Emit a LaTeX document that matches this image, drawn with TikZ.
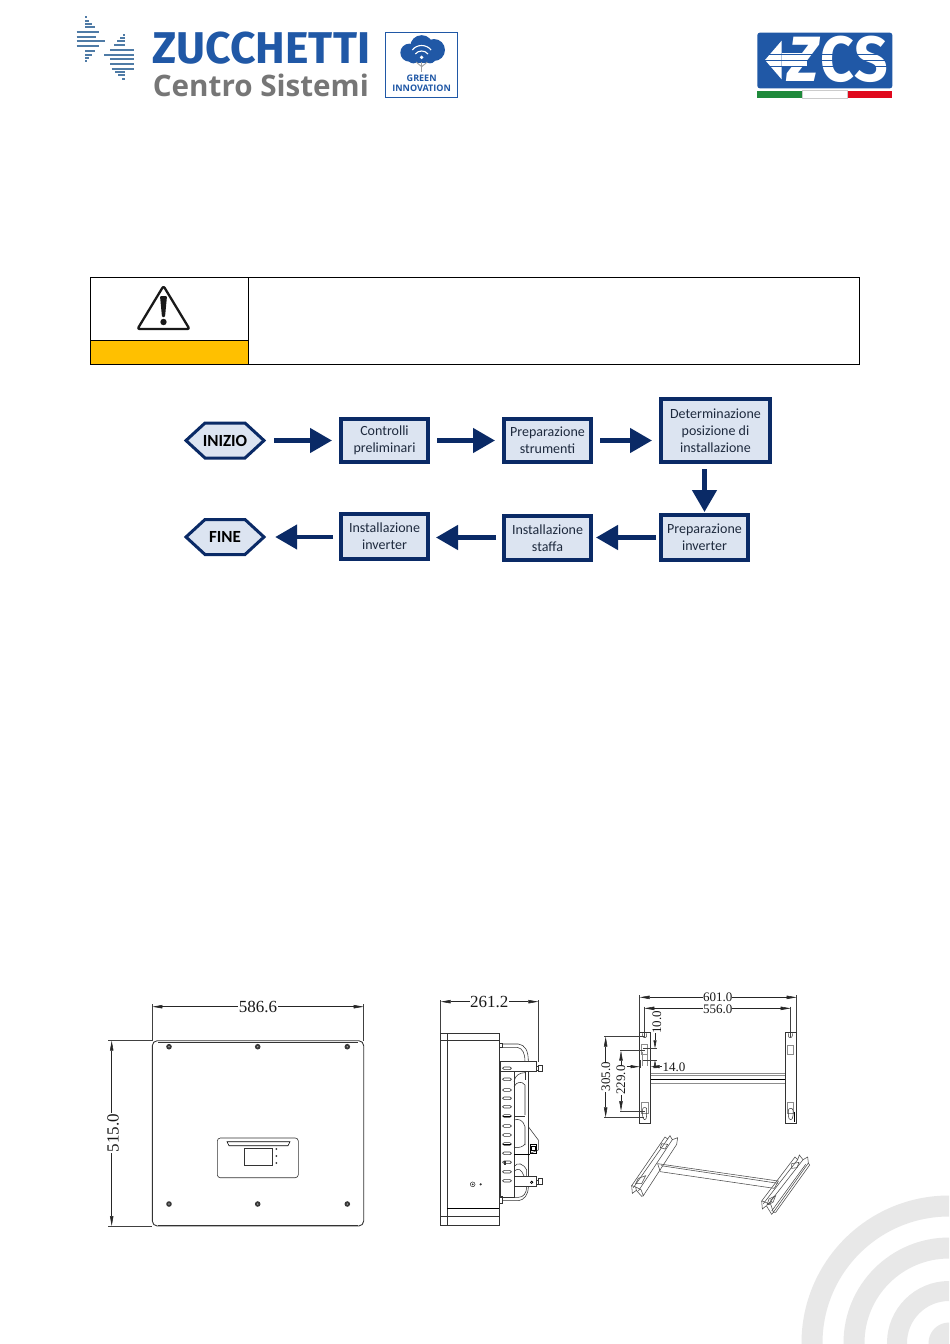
\documentclass[tikz,border=0pt]{standalone}
\usepackage{fontspec}
\setmainfont{Carlito}
\newfontfamily\dimfont{Liberation Serif}
\newfontfamily\logofont{Fira Sans}
\newfontfamily\logosfont{Open Sans}
\usetikzlibrary{arrows.meta,calc}
\definecolor{navy}{HTML}{0A2A66}
\definecolor{pale}{HTML}{DCE4F1}
\definecolor{inktext}{HTML}{1E2A3E}
\definecolor{zblue}{HTML}{2058A6}
\definecolor{zgrey}{HTML}{767676}
\definecolor{stripe}{HTML}{4F7BA6}
\definecolor{ring}{HTML}{E8E8E8}
\definecolor{amber}{HTML}{FFC000}
\definecolor{flaggreen}{HTML}{1F8A3B}
\definecolor{flagred}{HTML}{E0081C}
\tikzset{
  flowbox/.style={draw=navy,line width=4.4pt,fill=pale,inner sep=0pt,text=inktext,align=center,font=\fontsize{14}{17}\selectfont},
  hexlabel/.style={inner sep=0pt,minimum width=84pt,minimum height=38pt,text=black,font=\fontsize{17}{18}\selectfont\bfseries},
  hexline/.style={draw=navy,line width=3pt,fill=pale,miter limit=10},
  flowarrow/.style={draw=navy,line width=4.6pt,-{Triangle[length=22pt,width=24pt]},shorten <=7pt,shorten >=7pt},
  thin line/.style={line width=0.55pt,draw=black!80},
  dimension/.style={line width=0.55pt,draw=black!85,{Triangle[length=10pt,width=3.4pt]}-{Triangle[length=10pt,width=3.4pt]}},
  extline/.style={line width=0.5pt,draw=black!75},
  dimtext/.style={font=\dimfont\fontsize{17}{17}\selectfont,fill=white,inner sep=0.5pt,text=black!90},
  dimtextsmall/.style={font=\dimfont\fontsize{13}{13}\selectfont,fill=white,inner sep=0.2pt,text=black!90},
  greybar/.style={line width=0.9pt,draw=black!45},
  stripeline/.style={line width=1.7pt,draw=stripe},
}
\newcommand{\hexshape}[3]{% name, centre, label
  \draw[hexline] ($(#2)+(-39,0)$) -- ($(#2)+(-20,-17.5)$) -- ($(#2)+(20,-17.5)$) -- ($(#2)+(39,0)$) -- ($(#2)+(20,17.5)$) -- ($(#2)+(-20,17.5)$) -- cycle;
  \node[hexlabel] (#1) at (#2) {#3};}
\begin{document}
\begin{tikzpicture}[x=1pt,y=-1pt]
\useasboundingbox (0,0) rectangle (950,1344);
\fill[white] (0,0) rectangle (950,1344);

% ---- background rings
\begin{scope}
\clip (790,1190) rectangle (949,1343);
\draw[ring,line width=21pt] (949,1343) circle[radius=137pt];
\draw[ring,line width=21pt] (949,1343) circle[radius=95pt];
\draw[ring,line width=20pt] (949,1343) circle[radius=52pt];
\fill[ring] (949,1343) circle[radius=20.5pt];
\end{scope}

% ---- Zucchetti mark (zoom coordinates)
\begin{scope}[shift={(60,0)},x=0.33333pt,y=-0.33333pt]
\foreach \ya/\xa/\xb in {52/75/80,62/75/88,72/75/96,82/75/106,97/50/118,110/50/108,124/50/134,138/50/118,152/75/104,164/75/96,174/75/88,184/75/80}
  \draw[stripeline] (\xa,\ya) -- (\xb,\ya);
\foreach \ya/\xa/\xb in {104/190/195,114/180/195,124/172/195,134/162/195,150/150/222,164/133/222,178/150/222,192/150/222,206/155/222,216/165/195,226/175/195,238/186/195}
  \draw[stripeline] (\xa,\ya) -- (\xb,\ya);
\node[anchor=base west,inner sep=0pt,text=zblue,font=\logofont\bfseries\fontsize{44.5}{44}\selectfont] (zname) at (278,190) {ZUCCHETTI};
\node[anchor=base west,inner sep=0pt,text=zgrey,font=\logosfont\bfseries\fontsize{29.6}{30}\selectfont] (cname) at (278,288) {Centro Sistemi};
% green innovation badge
\draw[zblue,line width=1.6pt] (977,98) rectangle (1193,293);
\fill[zblue] (1048,158) circle[radius=9pt];
\fill[zblue] (1122,150) circle[radius=11pt];
\fill[zblue] (1085,140) circle[radius=11.5pt];
\fill[zblue] (1060,172) circle[radius=6pt];
\fill[zblue] (1110,172) circle[radius=6pt];
\fill[zblue] (1060,150) rectangle (1110,188);
\draw[white,line width=1.1pt] (1057,150) .. controls (1070,132) and (1100,132) .. (1113,150);
\draw[white,line width=1.1pt] (1066,162) .. controls (1075,150) and (1095,150) .. (1104,162);
\fill[white] (1085,172) circle[radius=1.9pt];
\draw[zgrey!70,line width=1.4pt] (1085,186) -- (1085,216);
\draw[zgrey!70,line width=0.9pt] (1085,200) -- (1068,186) (1085,200) -- (1102,186);
\node[inner sep=0pt,text=zblue,font=\logosfont\bfseries\fontsize{9}{9}\selectfont] (gr) at (1085,235) {GREEN};
\node[inner sep=0pt,text=zblue,font=\logosfont\bfseries\fontsize{9}{9}\selectfont] (inn) at (1085,266) {INNOVATION};
\end{scope}

% ---- ZCS logo
\begin{scope}[shift={(740,20)},x=0.33333pt,y=-0.33333pt]
\fill[zblue,rounded corners=2.5pt] (52,38) rectangle (457,205);
\fill[white] (75,120) -- (125,62) -- (125,178) -- cycle;
\fill[white] (125,100) rectangle (200,140);
\node[anchor=base west,inner sep=0pt,text=white,font=\logofont\bfseries\fontsize{64}{64}\selectfont,xscale=0.92] (zcs) at (142,184) {\textit{Z}CS};
\draw[zblue,line width=1.3pt] (60,104) -- (440,104);
\draw[zblue,line width=1.3pt] (60,122) -- (440,122);
\draw[zblue,line width=1.3pt] (60,140) -- (440,140);
\fill[flaggreen] (52,212) rectangle (187,235);
\fill[flagred] (323,212) rectangle (457,235);
\draw[black!20,line width=0.4pt] (187,212) rectangle (323,235);
\end{scope}

% ---- warning table
\fill[amber] (90,340) rectangle (248.5,364.5);
\draw[black,line width=1pt] (90.5,277.5) rectangle (859.5,364.5);
\draw[black,line width=1pt] (248.5,277.5) -- (248.5,364.5);
\draw[black,line width=0.8pt] (90.5,340) -- (248.5,340);
\draw[black!90,line width=2.3pt,line join=round,rounded corners=2pt] (163.5,286) -- (189.5,329) -- (137.5,329) -- cycle;
\fill[black!90,rounded corners=1pt] (160,296) -- (167,296) -- (165,317) -- (162,317) -- cycle;
\fill[black!90] (163.5,322) circle[radius=3.2pt];

% ---- flow chart
\hexshape{start}{225,440.5}{INIZIO}
\hexshape{finish}{225,537}{FINE}
\node[flowbox,minimum width=86.6pt,minimum height=42.6pt] (check) at (384.5,440.5) {Controlli\\preliminari};
\node[flowbox,minimum width=86.6pt,minimum height=42.6pt] (tools) at (547.5,440.5) {Preparazione\\strumenti};
\node[flowbox,minimum width=108.6pt,minimum height=62.6pt] (place) at (715.5,430.5) {Determinazione\\posizione di\\installazione};
\node[flowbox,minimum width=86.6pt,minimum height=44.6pt] (prep) at (704.5,537.5) {Preparazione\\inverter};
\node[flowbox,minimum width=86.6pt,minimum height=43.6pt] (bracket) at (547.5,538) {Installazione\\staffa};
\node[flowbox,minimum width=86.6pt,minimum height=44.6pt] (inst) at (384.5,536.5) {Installazione\\inverter};
\draw[flowarrow] (start.east) -- (check.west);
\draw[flowarrow] (check.east) -- (tools.west);
\draw[flowarrow] (tools.east) -- (place.west |- tools.east);
\draw[flowarrow,shorten <=5pt,shorten >=1pt] (place.south -| prep.north) -- (prep.north);
\draw[flowarrow,shorten <=3pt,shorten >=3pt] (prep.west) -- (bracket.east |- prep.west);
\draw[flowarrow,shorten <=6pt,shorten >=6pt] (bracket.west |- prep.west) -- (inst.east |- prep.west);
\draw[flowarrow,shorten <=6pt,shorten >=8pt] (inst.west |- finish.east) -- (finish.east);

% ---- front view
\draw[thin line,line width=0.9pt,rounded corners=5pt] (152.3,1040.7) rectangle (363.7,1226);
\draw[thin line,line width=0.5pt] (158,1042.3) -- (358,1042.3);
\draw[thin line,line width=0.5pt] (158,1224.8) -- (358,1224.8);
\foreach \sx in {169,257.7,347.3} \foreach \sy in {1046.7,1204} {
  \fill[black!78] (\sx,\sy) circle[radius=2.8pt];
  \fill[black!35] (\sx,\sy) circle[radius=0.8pt];
}
\draw[thin line,line width=0.6pt,rounded corners=3pt] (217.3,1138) rectangle (298.3,1177.7);
\draw[black,line width=0.6pt,fill=white] (227,1141.7) -- (290,1141.7) -- (288,1145.7) -- (229,1145.7) -- cycle;
\draw[thin line,line width=0.6pt] (244.3,1148.3) rectangle (272.3,1165);
\foreach \sy in {1149,1156,1163} \fill[black!80] (276.3,\sy) circle[radius=1pt];
\draw[extline] (152.3,1004) -- (152.3,1040.7);
\draw[extline] (363.7,1004) -- (363.7,1040.7);
\draw[dimension] (152.3,1006.7) -- (363.7,1006.7);
\node[dimtext] (w1) at (258,1007) {586.6};
\draw[extline] (108,1040.7) -- (152.3,1040.7);
\draw[extline] (108,1226) -- (152.3,1226);
\draw[dimension] (111.7,1040.7) -- (111.7,1226);
\node[dimtext,rotate=90] (h1) at (113,1133) {515.0};

% ---- side view (zoom coordinates)
\begin{scope}[shift={(430,990)},x=0.33333pt,y=-0.33333pt]
\draw[extline] (32,30) -- (32,130);
\draw[extline] (325,30) -- (325,215);
\draw[dimension] (32,35) -- (325,35);
\node[dimtext] (w2) at (178,37) {261.2};
\draw[thin line,line width=0.7pt] (32,130) rectangle (52,707);
\draw[thin line,line width=0.7pt] (52,130) rectangle (208,707);
\draw[thin line,line width=0.7pt] (32,152) -- (208,152);
\draw[black,line width=1pt] (52,655) -- (208,655);
\draw[thin line,line width=0.6pt] (32,678) -- (208,678);
% rear plate and brackets
\draw[thin line,line width=0.7pt] (210,215) -- (252,215) -- (252,622) -- (210,622) -- cycle;
\draw[thin line,line width=0.7pt,fill=white] (210,215) rectangle (318,243);
\draw[thin line,line width=0.7pt,fill=white] (325,225) rectangle (338,243);
\draw[thin line,line width=0.7pt] (318,228) -- (325,228) -- (325,240) -- (318,240);
\draw[thin line,line width=0.7pt,fill=white] (252,558) -- (318,558) -- (318,590) -- (252,590) -- cycle;
\draw[thin line,line width=0.7pt,fill=white] (325,566) rectangle (338,584);
\draw[thin line,line width=0.7pt] (318,570) -- (325,570) -- (325,582) -- (318,582);
\draw[black,line width=0.7pt] (305,577) circle[radius=1.2pt];
% cable bumps
\draw[thin line] (208,160) -- (218,160) -- (218,172) -- (208,172);
\draw[thin line] (208,618) -- (218,618) -- (218,640) -- (208,640);
\draw[thin line] (218,162) -- (265,162) .. controls (285,165) and (295,180) .. (295,215);
\draw[thin line] (218,172) -- (262,172) .. controls (278,175) and (285,190) .. (285,215);
\draw[thin line] (295,243) -- (295,558);
\draw[thin line] (285,243) -- (285,270);
\draw[thin line] (252,275) .. controls (255,255) and (270,248) .. (285,248);
\draw[thin line] (252,290) .. controls (260,275) and (275,272) .. (285,285) -- (285,375);
\draw[thin line] (252,378) -- (285,378);
\draw[thin line] (252,390) .. controls (265,385) and (280,390) .. (285,410) -- (285,465);
\draw[thin line] (252,472) .. controls (265,475) and (280,470) .. (285,462);
\draw[thin line] (295,410) -- (325,450) -- (325,480) -- (300,490);
\draw[black,line width=0.9pt] (300,462) rectangle (320,490);
\draw[black,line width=0.9pt] (305,468) rectangle (315,482);
\draw[black,line width=0.9pt] (252,492) -- (300,492);
\draw[thin line] (252,530) .. controls (262,515) and (280,520) .. (290,540) -- (290,558);
\draw[thin line] (252,545) .. controls (265,530) and (275,540) .. (282,558);
\draw[thin line] (218,622) -- (265,622) .. controls (280,622) and (290,610) .. (290,590);
\draw[thin line] (218,632) -- (265,632) .. controls (282,630) and (295,615) .. (295,590);
% vent slots
\foreach \sy in {235,268,300,325,350,378,408,435,462,490,517,545,572}
  \draw[thin line,line width=0.55pt,rounded corners=1.4pt] (218,\sy-4) rectangle (244,\sy+4);
\draw[black,line width=1pt] (218,378) -- (244,378);
\draw[black,line width=1pt] (218,462) -- (244,462);
\fill[black!80] (222,513) rectangle (228,525);
% connector on side
\draw[thin line,line width=0.5pt] (128,583) circle[radius=2.4pt];
\fill[black!80] (128,583) circle[radius=1pt];
\fill[black!80] (152,583) circle[radius=1.2pt];
\end{scope}

% ---- bracket drawing, plan view (zoom coordinates)
\begin{scope}[shift={(595,985)},x=0.33333pt,y=-0.33333pt]
\draw[extline] (134,30) -- (134,142);
\draw[extline] (605,30) -- (605,142);
\draw[extline] (148,65) -- (148,155);
\draw[extline] (587,65) -- (587,155);
\draw[dimension] (134,37) -- (605,37);
\draw[dimension] (148,70) -- (587,70);
\node[dimtextsmall] (w3) at (368,37) {601.0};
\node[dimtextsmall] (w4) at (368,72) {556.0};
\draw[thin line,line width=0.8pt] (134,142) rectangle (167,415);
\draw[thin line,line width=0.8pt] (570,142) rectangle (605,415);
\draw[greybar] (167,266) -- (570,266);
\draw[greybar] (167,271) -- (570,271);
\draw[black,line width=1pt] (167,283) -- (570,283);
\draw[greybar] (167,296) -- (570,296);
% left slots
\draw[thin line,line width=0.5pt] (143,145) -- (143,152) arc[start angle=180,end angle=360,radius=2pt] -- (155,145);
\draw[greybar,line width=0.6pt] (139,178) rectangle (157,208);
\draw[greybar,line width=0.6pt] (139,352) rectangle (159,385);
\draw[thin line,line width=0.5pt] (143,372) .. controls (143,366) and (155,366) .. (155,372) -- (155,392) .. controls (155,408) and (143,408) .. (143,392) -- cycle;
\draw[greybar,line width=0.6pt] (141,200) -- (141,243);
\draw[greybar,line width=0.6pt] (157,200) -- (157,243);
% right slots
\draw[thin line,line width=0.5pt] (580,145) -- (580,152) arc[start angle=180,end angle=360,radius=2pt] -- (592,145);
\draw[greybar,line width=0.6pt] (578,180) rectangle (596,208);
\draw[greybar,line width=0.6pt] (578,352) rectangle (596,385);
\draw[thin line,line width=0.5pt] (580,376) .. controls (580,368) and (594,368) .. (594,376) -- (594,392) .. controls (594,408) and (580,408) .. (580,392) -- cycle;
\draw[black,line width=1pt] (597,380) -- (597,412);
% dimensions
\draw[extline] (28,155) -- (148,155);
\draw[extline] (28,397) -- (148,397);
\draw[dimension] (32,155) -- (32,397);
\node[dimtextsmall,rotate=90] (h3) at (33,275) {305.0};
\draw[extline] (75,197) -- (150,197);
\draw[extline] (75,378) -- (150,378);
\draw[dimension] (78,197) -- (78,378);
\node[dimtextsmall,rotate=90] (h4) at (78,285) {229.0};
\draw[extline] (145,190) -- (185,190);
\draw[extline] (145,225) -- (185,225);
\draw[line width=0.55pt,draw=black!85,-{Triangle[length=8pt,width=3pt]}] (180,145) -- (180,190);
\draw[line width=0.55pt,draw=black!85,{Triangle[length=8pt,width=3pt]}-] (180,225) -- (180,245);
\node[dimtextsmall,rotate=90,fill=none] (h5) at (186,112) {10.0};
\draw[extline] (137,225) -- (137,250);
\draw[extline] (180,235) -- (180,250);
\draw[line width=0.55pt,draw=black!85,-{Triangle[length=9pt,width=3pt]}] (95,245) -- (134,245);
\draw[line width=0.55pt,draw=black!85,-{Triangle[length=9pt,width=3pt]}] (205,245) -- (167,245);
\node[dimtextsmall] (w5) at (237,247) {14.0};
\end{scope}

% ---- bracket drawing, 3D view (zoom coordinates)
\begin{scope}[shift={(615,1125)},x=0.33333pt,y=-0.33333pt]
\tikzset{thin line/.append style={line width=0.55pt,draw=black!70}}
% bar
\draw[thin line] (128,116) -- (490,168);
\draw[thin line] (138,122) -- (490,175);
\draw[thin line] (136,140) -- (478,190);
\draw[thin line] (128,116) -- (136,140);
\draw[thin line] (490,168) -- (478,190);
% left rail
\draw[thin line] (150,36) -- (158,42) -- (165,32) -- (172,44) -- (188,38) -- (185,58) -- (85,212) -- (78,194) -- (62,186) -- (50,182) -- cycle;
\draw[thin line] (158,42) -- (55,188);
\draw[thin line] (172,44) -- (70,198);
\draw[thin line] (50,182) -- (52,205) -- (64,196) -- (80,214) -- (85,212);
\draw[thin line] (64,196) -- (62,186);
\draw[thin line] (140,56) -- (158,58) -- (150,72) -- (136,68) -- cycle;
\draw[thin line] (70,160) -- (92,152) -- (80,176) -- (62,176) -- cycle;
% right rail
\draw[thin line] (540,96) -- (548,104) -- (553,90) -- (564,104) -- (578,96) -- (580,114) -- (475,262) -- (468,240) -- (452,232) -- (440,228) -- cycle;
\draw[thin line] (548,104) -- (445,236);
\draw[thin line] (564,104) -- (458,240);
\draw[thin line] (580,114) -- (584,120) -- (482,262) -- (475,262);
\draw[thin line] (572,118) -- (470,258);
\draw[thin line] (440,228) -- (442,252) -- (454,242) -- (470,268) -- (475,262);
\draw[thin line] (530,116) -- (552,112) -- (546,128) -- (530,130) -- cycle;
\draw[thin line] (462,222) -- (482,212) -- (474,232) -- (456,240) -- cycle;
\draw[thin line] (466,226) -- (478,216);
\draw[thin line] (460,236) -- (472,228);
\end{scope}
\end{tikzpicture}
\end{document}
